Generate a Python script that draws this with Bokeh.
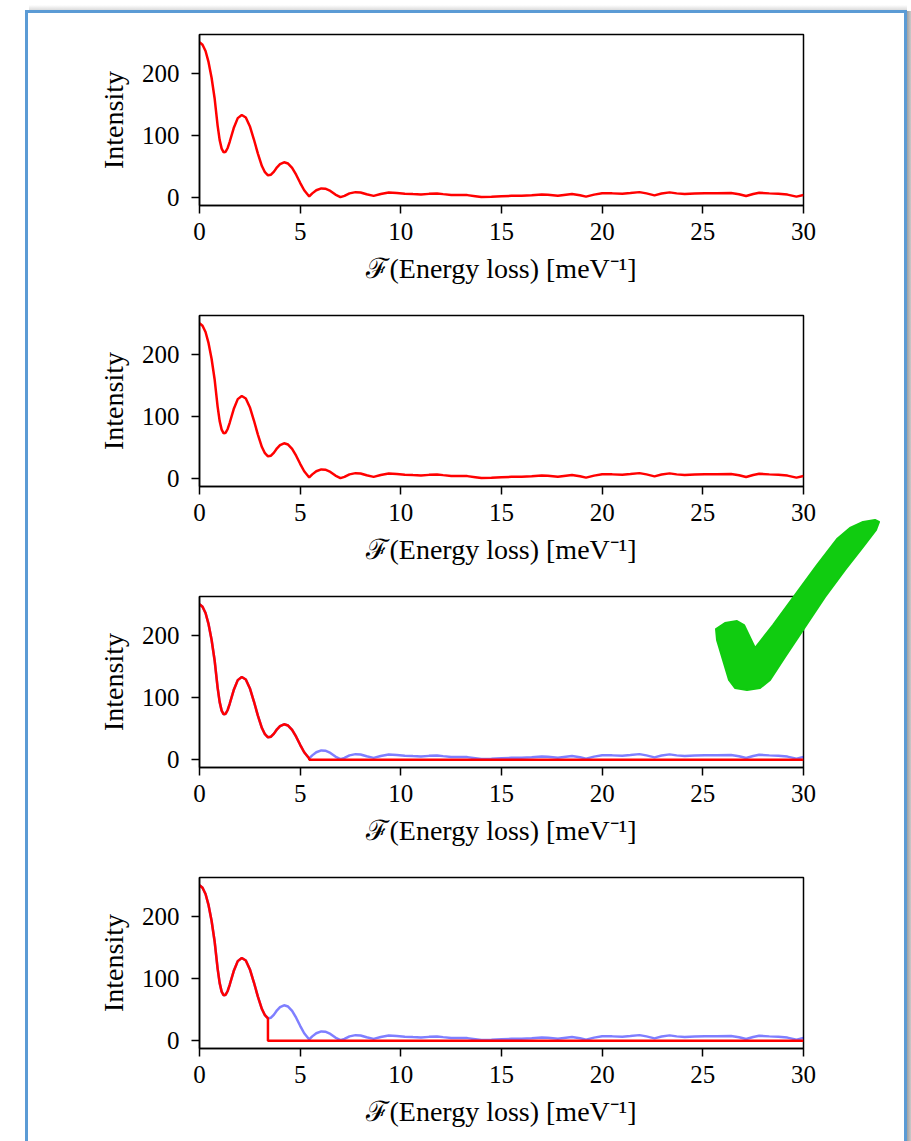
from bokeh.plotting import figure
from bokeh.layouts import column
from bokeh.models import FixedTicker, Range1d, Div
from bokeh.embed import file_html
from bokeh.resources import INLINE

# ---- data ----
freq = [0.0, 0.15, 0.3, 0.45, 0.6, 0.75, 0.9, 1.0, 1.1, 1.2, 1.3, 1.4, 1.5, 1.7, 1.9,
        2.1, 2.3, 2.5, 2.7, 2.9, 3.1, 3.25, 3.4, 3.55, 3.7, 3.85, 4.0, 4.2, 4.4,
        4.6, 4.8, 5.0, 5.2, 5.35, 5.45, 5.6, 5.8, 6.05, 6.25, 6.5, 6.75, 7.0, 7.2,
        7.45, 7.75, 8.0, 8.3, 8.65, 9.0, 9.4, 9.8, 10.2, 10.6, 11.0, 11.4, 11.8,
        12.1, 12.5, 12.9, 13.3, 13.7, 14.0, 14.5, 15.0, 15.5, 16.0, 16.5, 17.0, 17.3,
        17.8, 18.2, 18.5, 18.9, 19.2, 19.6, 20.0, 20.5, 21.0, 21.4, 21.85, 22.2, 22.6,
        22.95, 23.35, 23.7, 24.1, 24.6, 25.1, 25.7, 26.4, 26.8, 27.15, 27.5, 27.8,
        28.3, 28.75, 29.2, 29.65, 30.0]
intensity = [250, 246, 236, 218, 193, 160, 116, 93, 79, 73, 74, 80, 90, 112, 128,
             133, 129, 115, 94, 71, 51, 41, 36, 37, 42, 49, 54, 57, 55,
             48, 37, 24, 12, 6, 2, 7, 12, 15, 14.5, 11, 5, 1, 3,
             7, 9, 8.5, 5.5, 3, 6, 8.5, 7.5, 6.5, 5.8, 5.3, 6.2, 6.8,
             5.8, 4.5, 4.2, 4.2, 2.5, 1, 1.4, 2.4, 3.0, 3.3, 4.0, 5.0, 4.8,
             3.0, 4.8, 6.0, 4.0, 1.8, 5.0, 7.2, 7.0, 6.5, 7.5, 9.0, 7.0, 3.8,
             6.8, 8.6, 7.0, 6.0, 6.8, 7.0, 7.2, 7.5, 5.5, 2.7, 6.0, 8.0,
             7.0, 6.4, 5.0, 1.8, 4.3]
cutoffs = [None, None, 5.45, 3.4]      # filter cut-off per panel (None = unfiltered)
x_ticks = [0, 5, 10, 15, 20, 25, 30]
y_ticks = [0, 100, 200]
x_label = "\u2131(Energy loss) [meV\u207b\u00b9]"
y_label = "Intensity"

# ---- decoration shape (page pixel coordinates) ----
check_x = [711, 720, 732, 739, 750, 768, 790, 812, 832, 845, 858, 870, 874, 871,
           858, 840, 820, 800, 780, 765, 755, 742, 730, 724, 718, 712]
check_y = [624, 618, 616, 620, 643, 620, 590, 560, 534, 523, 517, 515, 517, 525,
           542, 565, 592, 622, 652, 675, 683, 685, 683, 675, 655, 635]

FONT = "Liberation Serif"
FRAME_W, FRAME_H = 604, 171
LEFT, RIGHT, BOTTOM = 199, 108, 82
tops = [34, 28, 28, 28]

figs = []
total_h = 0
for i, cut in enumerate(cutoffs):
    p = figure(frame_width=FRAME_W, frame_height=FRAME_H,
               min_border_left=LEFT, min_border_right=RIGHT,
               min_border_top=tops[i], min_border_bottom=BOTTOM,
               x_range=Range1d(0, 30), y_range=Range1d(-12.5, 262.5),
               output_backend="svg", toolbar_location=None)
    p.background_fill_color = "white"
    p.border_fill_color = "white"
    p.outline_line_color = "black"
    p.outline_line_width = 1.5
    p.grid.visible = False
    for ax in (p.xaxis[0], p.yaxis[0]):
        ax.axis_line_width = 1.5
        ax.major_tick_line_width = 1.5
        ax.major_tick_out = 8
        ax.major_tick_in = 0
        ax.minor_tick_out = 0
        ax.minor_tick_in = 0
        ax.major_label_text_font = FONT
        ax.major_label_text_font_size = "25px"
        ax.major_label_text_color = "black"
        ax.axis_label_text_font = FONT
        ax.axis_label_text_font_size = "28px"
        ax.axis_label_text_font_style = "normal"
        ax.axis_label_text_color = "black"
    p.xaxis.ticker = FixedTicker(ticks=x_ticks)
    p.yaxis.ticker = FixedTicker(ticks=y_ticks)
    p.xaxis.axis_label = x_label
    p.yaxis.axis_label = y_label
    p.xaxis.major_label_standoff = 9
    p.xaxis.axis_label_standoff = 10
    p.yaxis.major_label_standoff = 12
    p.yaxis.axis_label_standoff = 10

    if cut is None:
        p.line(freq, intensity, line_color="red", line_width=2.5)
    else:
        p.line(freq, intensity, line_color="blue", line_alpha=0.5, line_width=2.5)
        rx = [f for f in freq if f <= cut]
        ry = [v for f, v in zip(freq, intensity) if f <= cut]
        rx += [cut, freq[-1]]
        ry += [0, 0]
        p.line(rx, ry, line_color="red", line_width=2.5)
    total_h += tops[i] + FRAME_H + BOTTOM
    figs.append(p)

# ---- page frame + checkmark overlay (SVG, no text) ----
pts = " ".join(f"{x},{y}" for x, y in zip(check_x, check_y))
svg = (
    f'<svg width="911" height="1141" style="position:absolute;left:0px;top:-{total_h}px;'
    'z-index:10;pointer-events:none;overflow:visible">'
    '<defs>'
    '<linearGradient id="shr" x1="0" y1="0" x2="1" y2="0">'
    '<stop offset="0" stop-color="#777" stop-opacity="0.7"/>'
    '<stop offset="1" stop-color="#777" stop-opacity="0"/></linearGradient>'
    '<linearGradient id="sht" x1="0" y1="1" x2="0" y2="0">'
    '<stop offset="0" stop-color="#999" stop-opacity="0.35"/>'
    '<stop offset="1" stop-color="#999" stop-opacity="0"/></linearGradient>'
    '</defs>'
    '<rect x="902" y="6" width="9" height="1135" fill="url(#shr)"/>'
    '<rect x="24" y="0" width="878" height="5" fill="url(#sht)"/>'
    '<path d="M21.5 1141 V6.5 H900.5 V1141" fill="none" stroke="#5b9bd5" stroke-width="3"/>'
    f'<polygon points="{pts}" fill="#10cc10" stroke="#10cc10" stroke-width="2" stroke-linejoin="round"/>'
    '</svg>'
)
overlay = Div(text=svg, width=911, height=1141 - total_h,
              styles={"overflow": "visible", "position": "relative"})

layout = column(*figs, overlay, spacing=0)
open("out.html", "w").write(file_html(layout, INLINE))
